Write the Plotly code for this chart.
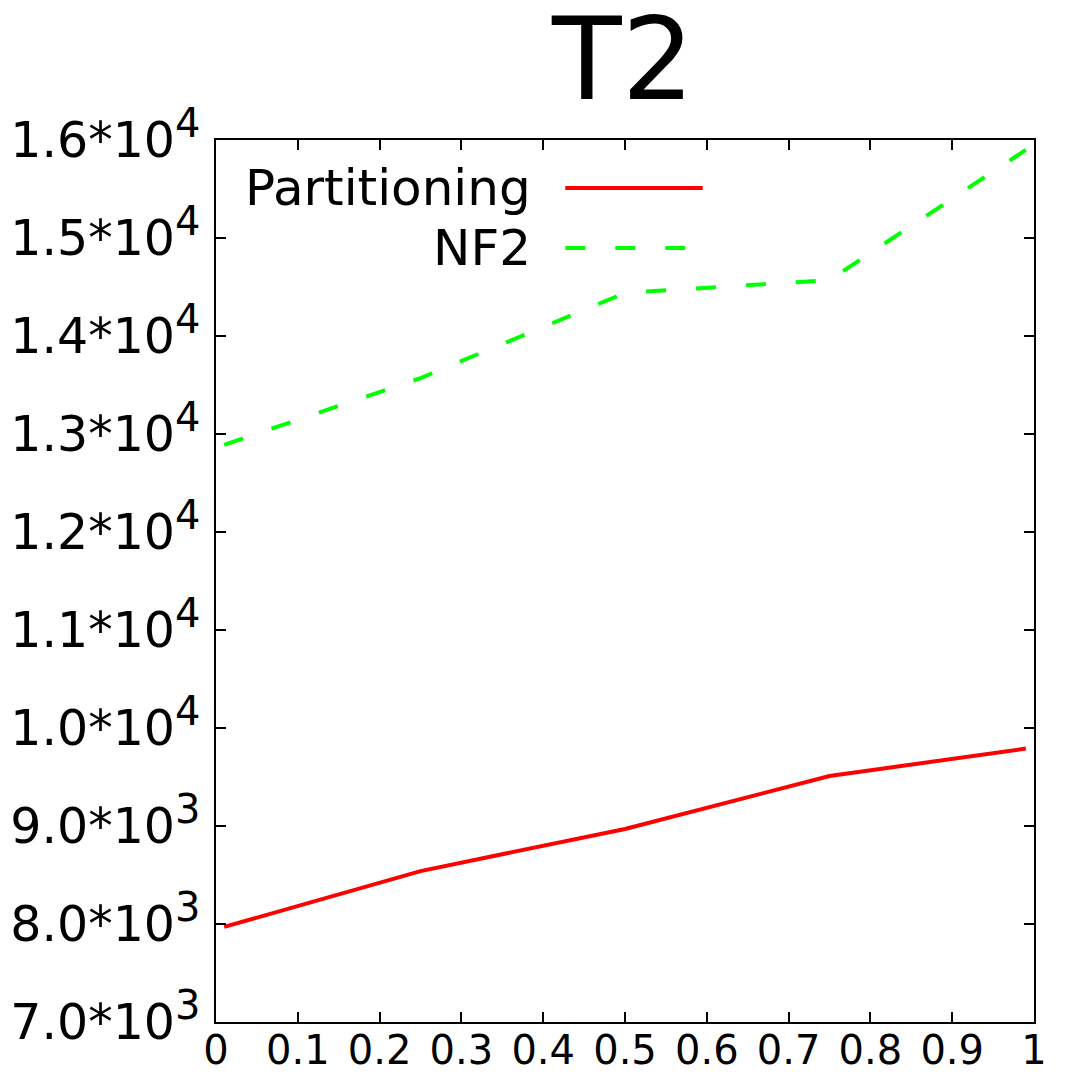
"""T2: Partitioning vs NF2, gnuplot-style line chart."""

import plotly.graph_objects as go

x_vals = [0.01, 0.25, 0.5, 0.75, 0.99]
partitioning = [7970, 8540, 8970, 9510, 9790]
nf2 = [12890, 13570, 14440, 14570, 15900]

x_ticks = [0, 0.1, 0.2, 0.3, 0.4, 0.5, 0.6, 0.7, 0.8, 0.9, 1]
x_labels = ["0", "0.1", "0.2", "0.3", "0.4", "0.5", "0.6", "0.7", "0.8", "0.9", "1"]
y_ticks = [7000, 8000, 9000, 10000, 11000, 12000, 13000, 14000, 15000, 16000]
y_mant = ["7.0", "8.0", "9.0", "1.0", "1.1", "1.2", "1.3", "1.4", "1.5", "1.6"]
y_exp = ["3", "3", "3", "4", "4", "4", "4", "4", "4", "4"]

RED = "#ff0000"
GREEN = "#00ff00"
FONT = "DejaVu Sans"
NF2_DASH = "20px,30px"

y_labels = [
    f"{m}*10<sup><span style='font-size:40px'>{e}</span></sup>"
    for m, e in zip(y_mant, y_exp)
]

fig = go.Figure()

fig.add_trace(
    go.Scatter(
        x=x_vals, y=partitioning, mode="lines", name="Partitioning",
        line={"color": RED, "width": 4}, showlegend=False,
    )
)
fig.add_trace(
    go.Scatter(
        x=x_vals, y=nf2, mode="lines", name="NF2",
        line={"color": GREEN, "width": 4, "dash": NF2_DASH}, showlegend=False,
    )
)

# gnuplot-style key: label right-aligned, sample line on its right
key = [("Partitioning", RED, "solid", 0.9456), ("NF2", GREEN, NF2_DASH, 0.8776)]
for label, color, dash, ky in key:
    fig.add_annotation(
        x=0.388, y=ky, xref="paper", yref="paper", text=label,
        showarrow=False, xanchor="right", yanchor="middle",
        font={"family": FONT, "size": 50, "color": "black"},
    )
    fig.add_shape(
        type="line", xref="paper", yref="paper",
        x0=0.427, x1=0.595, y0=ky, y1=ky,
        line={"color": color, "width": 4, "dash": dash},
    )

fig.add_annotation(
    x=0.497, y=1.0, xref="paper", yref="paper", text="T2", showarrow=False,
    xanchor="center", yanchor="bottom", yshift=12,
    font={"family": FONT, "size": 114, "color": "black"},
)

axis_common = {
    "showline": True, "linecolor": "black", "linewidth": 1.5, "mirror": "ticks",
    "ticks": "inside", "ticklen": 10, "tickwidth": 1.5, "tickcolor": "black",
    "showgrid": False, "zeroline": False, "automargin": False,
}

fig.update_xaxes(
    range=[0, 1], tickvals=x_ticks, ticktext=x_labels, ticklabelstandoff=-8,
    tickfont={"family": FONT, "size": 40, "color": "black"}, **axis_common,
)
fig.update_yaxes(
    range=[7000, 16000], tickvals=y_ticks, ticktext=y_labels, ticklabelstandoff=4,
    tickfont={"family": FONT, "size": 49, "color": "black"}, **axis_common,
)

fig.update_layout(
    width=1072, height=1072,
    margin={"l": 208, "r": 46, "t": 132, "b": 58},
    paper_bgcolor="white", plot_bgcolor="white",
    font={"family": FONT, "color": "black"},
)

fig.write_html("out.html")
